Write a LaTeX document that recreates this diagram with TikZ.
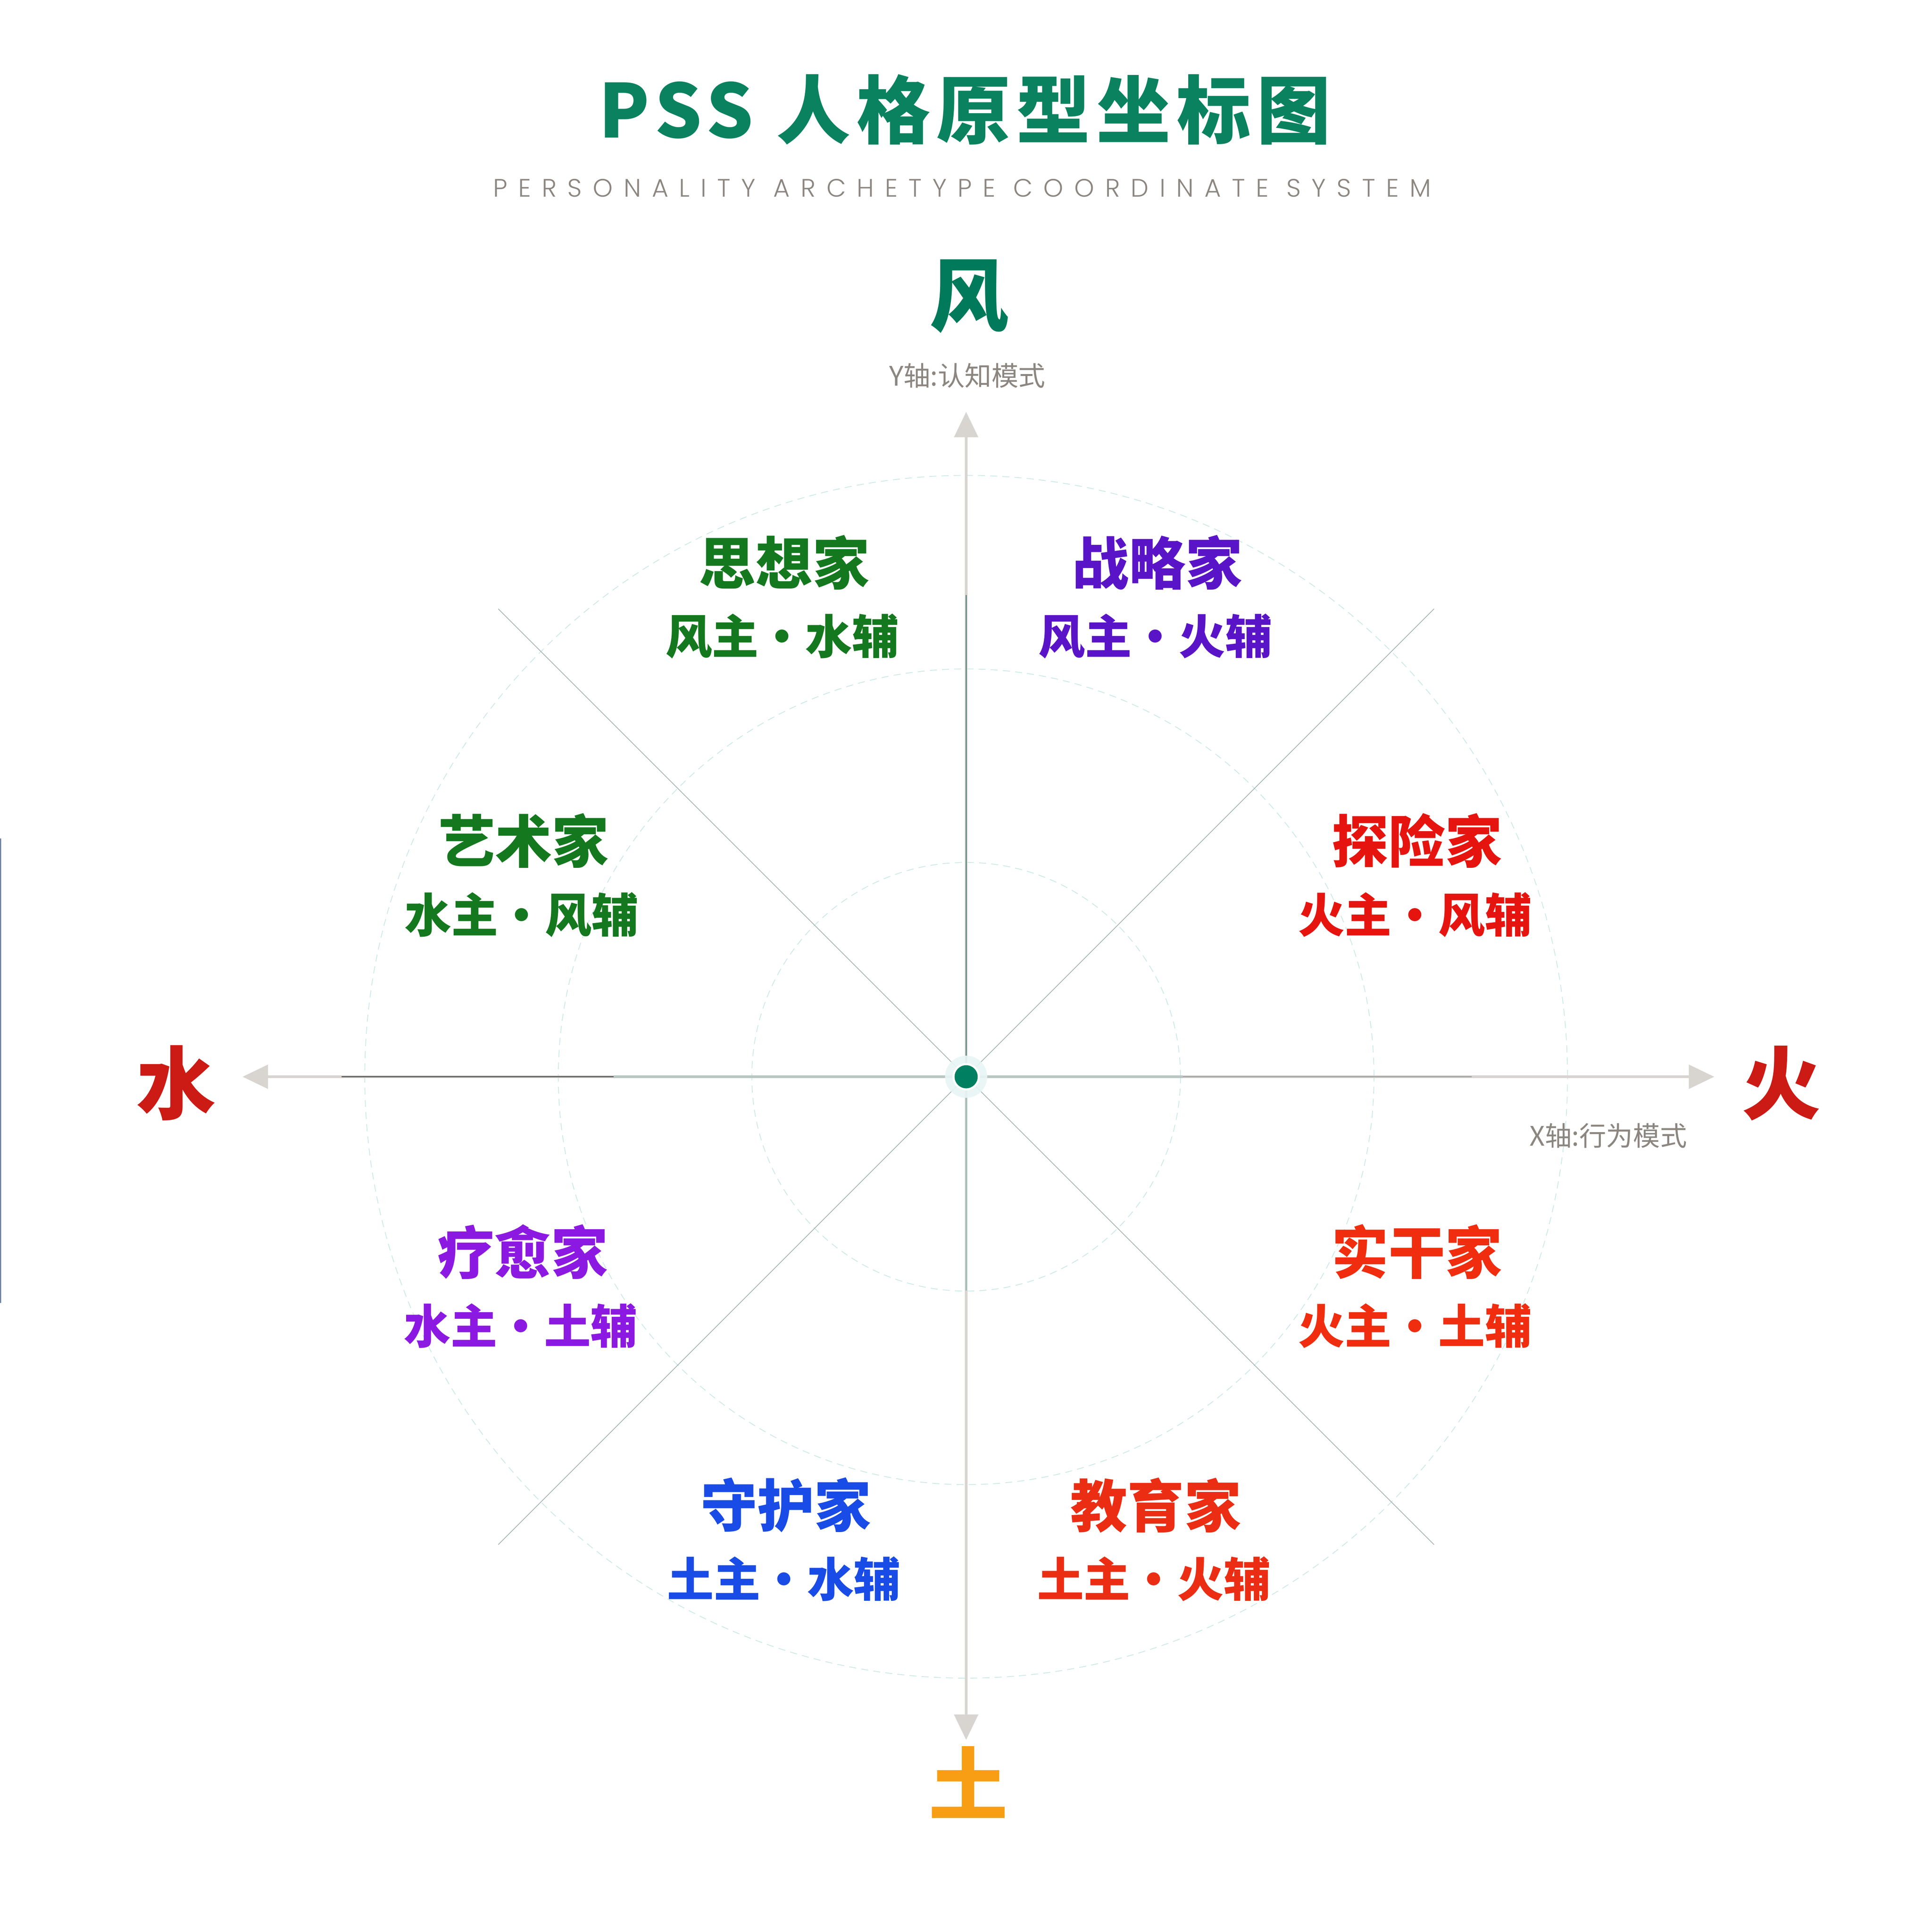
\documentclass[tikz,border=0pt]{standalone}
\usepackage{fontspec}
\usepackage{tikz}
\usetikzlibrary{arrows.meta}
\setmainfont{Noto Sans CJK SC}
\newfontfamily\latinlight{Poppins Light}
\definecolor{titlegreen}{RGB}{10,130,95}
\definecolor{windgreen}{RGB}{0,122,90}
\definecolor{firered}{RGB}{204,26,20}
\definecolor{earthorange}{RGB}{248,158,20}
\definecolor{softgrey}{RGB}{140,134,128}
\definecolor{axisgrey}{RGB}{216,212,208}
\definecolor{axisteal}{RGB}{95,140,125}
\definecolor{axispale}{RGB}{150,185,175}
\definecolor{axisdark}{RGB}{90,95,95}
\definecolor{axismist}{RGB}{185,198,194}
\definecolor{axismid}{RGB}{160,165,165}
\definecolor{diaggrey}{RGB}{158,172,172}
\definecolor{ringcyan}{RGB}{200,232,229}
\definecolor{dotgreen}{RGB}{0,128,96}
\definecolor{halocyan}{RGB}{232,246,246}
\definecolor{sxgreen}{RGB}{20,120,30}
\definecolor{zlpurple}{RGB}{90,20,200}
\definecolor{txred}{RGB}{230,20,15}
\definecolor{lyviolet}{RGB}{140,25,225}
\definecolor{sgred}{RGB}{240,45,15}
\definecolor{shblue}{RGB}{25,75,230}
\definecolor{jyred}{RGB}{235,45,20}
\definecolor{edgeblue}{RGB}{110,130,160}
\tikzset{
  axis/.style={line width=2.85pt, draw=axisgrey, -{Triangle[length=0.88cm,width=0.82cm]}},
  diag/.style={line width=0.65pt, draw=diaggrey},
  ring/.style={line width=0.7pt, draw=ringcyan, dash pattern=on 7pt off 5pt},
  elem/.style={text=#1, inner sep=0pt, font=\fontsize{78pt}{80pt}\selectfont\bfseries},
  axislabel/.style={text=softgrey, inner sep=0pt, font=\fontsize{26.5pt}{28pt}\selectfont},
  arch/.style={text=#1, inner sep=0pt, font=\fontsize{56pt}{58pt}\selectfont\bfseries},
  archsub/.style={text=#1, inner sep=0pt, font=\fontsize{46pt}{48pt}\selectfont\bfseries}
}
\begin{document}
\begin{tikzpicture}
\useasboundingbox (-33.45,-29.61) rectangle (33.44,37.28);
\fill[white] (-33.45,-29.61) rectangle (33.44,37.28);
\draw[line width=0.85pt, edgeblue] (-33.43,8.25) -- (-33.43,-7.83);
% title
\node[text=titlegreen, inner sep=0pt, font=\fontsize{73pt}{75pt}\selectfont\bfseries\addfontfeature{LetterSpace=8}] (title) at (-0.05,33.48) {PSS 人格原型坐标图};
\node[text=softgrey, inner sep=0pt, font=\fontsize{24.9pt}{26pt}\latinlight\addfontfeature{LetterSpace=43}] (subtitle) at (-0.14,30.77) {PERSONALITY ARCHETYPE COORDINATE SYSTEM};
% centre and axis ends
\coordinate (o) at (0,0);
\coordinate (ytop) at (0,23.02);
\coordinate (ybot) at (0,-22.96);
\coordinate (xleft) at (-25.05,0);
\coordinate (xright) at (25.90,0);
\coordinate (ne) at (16.2,16.2);
\coordinate (nw) at (-16.2,16.2);
\coordinate (se) at (16.2,-16.2);
\coordinate (sw) at (-16.2,-16.2);
% rings
\draw[ring] (o) circle[radius=20.82];
\draw[ring] (o) circle[radius=14.12];
\draw[ring] (o) circle[radius=7.42];
% diagonals
\draw[diag] (o) -- (ne);
\draw[diag] (o) -- (nw);
\draw[diag] (o) -- (se);
\draw[diag] (o) -- (sw);
% axes
\draw[axis] (o) -- (ytop);
\draw[axis] (o) -- (ybot);
\draw[axis] (o) -- (xleft);
\draw[axis] (o) -- (xright);
\draw[line width=1.4pt, axisteal] (o) -- (0,16.68);
\draw[line width=1.4pt, axispale] (o) -- (0,-7.4);
\draw[line width=1.1pt, axisdark] (-21.62,0) -- (-12.21,0);
\draw[line width=2.5pt, axismist] (-12.21,0) -- (o);
\draw[line width=2.5pt, axismist] (o) -- (7.5,0);
\draw[line width=1.1pt, axismid] (7.5,0) -- (17.5,0);
% centre dot
\fill[halocyan, opacity=0.9] (o) circle[radius=0.73];
\fill[white] (o) circle[radius=0.47];
\node[circle, fill=dotgreen, minimum size=0.8cm, inner sep=0pt] (dot) at (o) {};
% elements
\node[elem=windgreen] (wind) at (0.10,27.02) {风};
\node[elem=firered] (fire) at (28.22,-0.22) {火};
\node[elem=firered] (water) at (-27.35,-0.22) {水};
\node[elem=earthorange] (earth) at (0.07,-24.42) {土};
\node[axislabel] (ylabel) at (0.04,24.28) {Y轴:认知模式};
\node[axislabel] (xlabel) at (22.23,-2.04) {X轴:行为模式};
% archetypes
\foreach \x/\y/\c/\t/\s/\n in {
  -6.30/17.81/sxgreen/思想家/风主・水辅/thinker,
  6.62/17.81/zlpurple/战略家/风主・火辅/strategist,
  -15.32/8.17/sxgreen/艺术家/水主・风辅/artist,
  15.61/8.17/txred/探险家/火主・风辅/explorer,
  -15.35/-6.06/lyviolet/疗愈家/水主・土辅/healer,
  15.61/-6.06/sgred/实干家/火主・土辅/doer,
  -6.24/-14.83/shblue/守护家/土主・水辅/guardian,
  6.57/-14.83/jyred/教育家/土主・火辅/educator}
{
  \node[arch=\c] (\n) at (\x,\y) {\t};
  \node[archsub=\c] (\n-sub) at (\x-0.07,\y-2.56) {\s};
}
\end{tikzpicture}
\end{document}
